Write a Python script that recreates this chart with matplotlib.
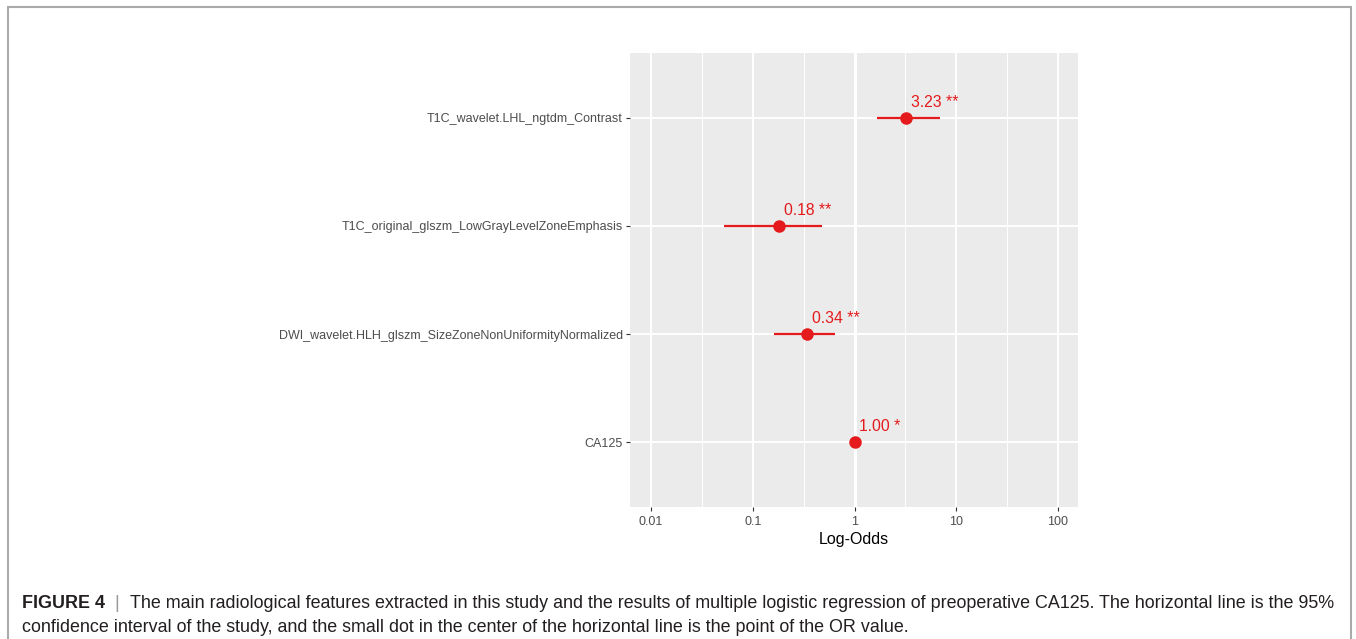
import numpy as np
import matplotlib.pyplot as plt
from matplotlib.patches import Rectangle

plt.rcParams['font.family'] = ['Liberation Sans', 'DejaVu Sans']

# Forest plot data (top to bottom)
features = [
    "T1C_wavelet.LHL_ngtdm_Contrast",
    "T1C_original_glszm_LowGrayLevelZoneEmphasis",
    "DWI_wavelet.HLH_glszm_SizeZoneNonUniformityNormalized",
    "CA125",
]
odds = [3.23, 0.18, 0.34, 1.00]
ci_low = [1.68, 0.052, 0.16, 0.99]
ci_high = [6.97, 0.483, 0.637, 1.01]
stars = ["**", "**", "**", "*"]
xticks = [0.01, 0.1, 1, 10, 100]
xtick_labels = ["0.01", "0.1", "1", "10", "100"]

red = "#E41A1C"

fig = plt.figure(figsize=(13.56, 6.39), dpi=100)
ax = fig.add_axes([630 / 1356, 1 - 507 / 639, 448 / 1356, 454 / 639])
ax.set_facecolor("#EBEBEB")

n = len(features)
ypos = np.arange(n, 0, -1)

ax.set_xscale("log")
ax.set_xlim(10 ** -2.206, 10 ** 2.196)
ax.set_ylim(0.4, n + 0.6)

# grid like ggplot
for v in xticks:
    ax.axvline(v, color="white", lw=1.4, zorder=0)
for v in [10 ** -1.5, 10 ** -0.5, 10 ** 0.5, 10 ** 1.5]:
    ax.axvline(v, color="white", lw=0.7, zorder=0)
for y in ypos:
    ax.axhline(y, color="white", lw=1.4, zorder=0)
ax.axvline(1, color="white", lw=2.2, zorder=0)

ax.hlines(ypos, ci_low, ci_high, color=red, lw=1.6, zorder=2)
ax.plot(odds, ypos, "o", color=red, ms=8, zorder=3)
for x, y, s in zip(odds, ypos, stars):
    ax.annotate(f"{x:.2f} {s}", (x, y), xytext=(3.5, 6), textcoords="offset points",
                color=red, fontsize=11.3, ha="left", va="bottom")

ax.set_yticks(ypos)
ax.set_yticklabels(features)
ax.set_xticks(xticks)
ax.set_xticklabels(xtick_labels)
ax.minorticks_off()
ax.tick_params(axis="both", colors="#333333", labelcolor="#4D4D4D", labelsize=9.0,
               length=3, width=0.8)
ax.tick_params(axis="y", pad=2)
ax.set_xlabel("Log-Odds", fontsize=11.5, color="black", labelpad=3)
for sp in ax.spines.values():
    sp.set_visible(False)

# outer frame
fig.add_artist(Rectangle((8 / 1356, -0.01), 1343 / 1356, (639 - 7) / 639 + 0.01,
                         transform=fig.transFigure, fill=False,
                         edgecolor="#AAAAAA", lw=1.5))

# caption
cap_size = 12.85
x0 = 22 / 1356
y1 = 1 - 608 / 639
y2 = 1 - 632 / 639
t1 = fig.text(x0, y1, "FIGURE 4", fontsize=cap_size, fontweight="bold", va="baseline",
              color="#231F20")
renderer = fig.canvas.get_renderer()
bb = t1.get_window_extent(renderer)
x1 = bb.x1 / fig.bbox.width
t2 = fig.text(x1, y1, "  |  ", fontsize=cap_size, color="#999999", va="baseline")
bb2 = t2.get_window_extent(renderer)
x2 = bb2.x1 / fig.bbox.width
fig.text(x2, y1, "The main radiological features extracted in this study and the results of "
         "multiple logistic regression of preoperative CA125. The horizontal line is the 95%",
         fontsize=cap_size, va="baseline", color="#231F20")
fig.text(x0, y2, "confidence interval of the study, and the small dot in the center of the "
         "horizontal line is the point of the OR value.", fontsize=cap_size, va="baseline",
         color="#231F20")

fig.savefig("out.png", dpi=100)
